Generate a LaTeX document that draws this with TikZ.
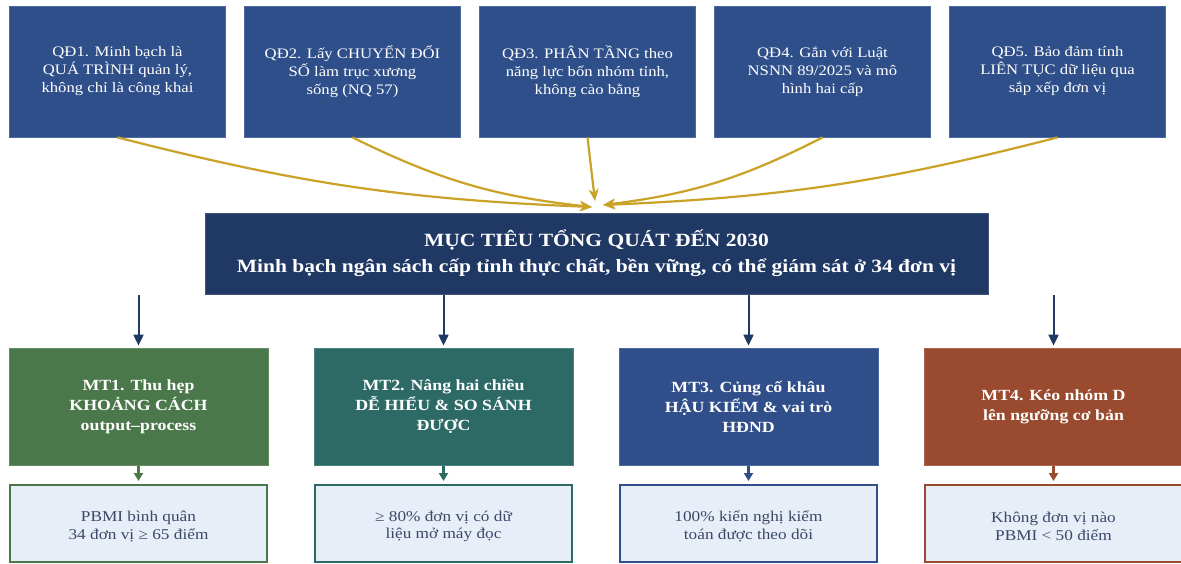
\documentclass[tikz,border=0pt]{standalone}
\usepackage{fontspec}
\setmainfont[FakeStretch=1.15]{Liberation Serif}
\usetikzlibrary{arrows.meta}

\definecolor{qdblue}{HTML}{2F4F8A}
\definecolor{navy}{HTML}{1F3864}
\definecolor{gold}{HTML}{C9A227}
\definecolor{mtgreen}{HTML}{4B784B}
\definecolor{mtteal}{HTML}{2D6A66}
\definecolor{mtblue}{HTML}{2F4E8A}
\definecolor{mtrust}{HTML}{9A4A2E}
\definecolor{kpifill}{HTML}{E8EEF8}
\definecolor{kpitext}{HTML}{3A4868}

% indicator text, set a little below the box centre
\newcommand{\kpitxt}[1]{\parbox{250pt}{\centering\vspace*{6pt}#1}}

\tikzset{
  qdbox/.style={fill=qdblue, draw=qdblue!85!white, line width=0.8pt,
    minimum width=216pt, minimum height=131pt, inner sep=0pt,
    text=white, align=center, font=\fontsize{14.5}{18}\selectfont},
  goalbox/.style={fill=navy, draw=navy!85!white, line width=0.8pt,
    minimum width=783pt, minimum height=81pt, inner sep=0pt,
    text=white, align=center, font=\bfseries\fontsize{18.7}{26}\selectfont},
  mtbox/.style={fill=#1, draw=#1!85!white, line width=0.8pt,
    minimum width=259pt, minimum height=117pt, inner sep=0pt,
    text=white, align=center, font=\bfseries\fontsize{15.5}{20}\selectfont},
  kpibox/.style={fill=kpifill, draw=#1, line width=2pt,
    minimum width=257pt, minimum height=77pt, inner sep=0pt,
    text=kpitext, align=center, font=\fontsize{15}{17.5}\selectfont},
  goldarrow/.style={draw=gold, line width=2.2pt,
    -{Stealth[length=12pt,width=10pt]}},
  navyarrow/.style={draw=navy, line width=2pt,
    -{Triangle[length=11pt,width=10pt]}},
  smallarrow/.style={draw=#1, line width=2.4pt,
    -{Triangle[length=8pt,width=9pt]}, shorten <=1pt, shorten >=3pt},
}

\begin{document}
\begin{tikzpicture}[x=1pt,y=-1pt]
\useasboundingbox (0,0) rectangle (1181,564);
\fill[white] (0,0) rectangle (1181,564);

% five guiding principles
\node[qdbox] (qd1) at (117.5,71.5) {QĐ1. Minh bạch là\\QUÁ TRÌNH quản lý,\\không chỉ là công khai};
\node[qdbox] (qd2) at (352.5,71.5) {QĐ2. Lấy CHUYỂN ĐỔI\\SỐ làm trục xương\\sống (NQ 57)};
\node[qdbox] (qd3) at (587.5,71.5) {QĐ3. PHÂN TẦNG theo\\năng lực bốn nhóm tỉnh,\\không cào bằng};
\node[qdbox] (qd4) at (822.5,71.5) {QĐ4. Gắn với Luật\\NSNN 89/2025 và mô\\hình hai cấp};
\node[qdbox] (qd5) at (1057.5,71.5) {QĐ5. Bảo đảm tính\\LIÊN TỤC dữ liệu qua\\sắp xếp đơn vị};

% overall goal
\node[goalbox] (goal) at (596.5,253.5) {MỤC TIÊU TỔNG QUÁT ĐẾN 2030\\Minh bạch ngân sách cấp tỉnh thực chất, bền vững, có thể giám sát ở 34 đơn vị};

% converging points above the goal
\coordinate (tipL) at (592,207);
\coordinate (tipC) at (595,201);
\coordinate (tipR) at (603,205);

\draw[goldarrow] (qd1.south) to[bend right=6] (tipL);
\draw[goldarrow] (qd2.south) to[bend right=10] (tipL);
\draw[goldarrow] (qd3.south) to (tipC);
\draw[goldarrow] (qd4.south) to[bend left=10] (tipR);
\draw[goldarrow] (qd5.south) to[bend left=6] (tipR);

% specific objectives
\node[mtbox=mtgreen] (mt1) at (138.5,406.5) {MT1. Thu hẹp\\KHOẢNG CÁCH\\output–process};
\node[mtbox=mtteal]  (mt2) at (443.5,406.5) {MT2. Nâng hai chiều\\DỄ HIỂU \& SO SÁNH\\ĐƯỢC};
\node[mtbox=mtblue]  (mt3) at (748.5,406.5) {MT3. Củng cố khâu\\HẬU KIỂM \& vai trò\\HĐND};
\node[mtbox=mtrust]  (mt4) at (1053.5,406.5) {MT4. Kéo nhóm D\\lên ngưỡng cơ bản};

% branch points below the goal
\coordinate (g1) at (138.5,295);
\coordinate (g2) at (443.5,295);
\coordinate (g3) at (748.5,295);
\coordinate (g4) at (1053.5,295);

\draw[navyarrow, shorten >=2pt] (g1) -- (mt1.north);
\draw[navyarrow, shorten >=2pt] (g2) -- (mt2.north);
\draw[navyarrow, shorten >=2pt] (g3) -- (mt3.north);
\draw[navyarrow, shorten >=2pt] (g4) -- (mt4.north);

% indicators
\node[kpibox=mtgreen] (k1) at (138.5,523.5) {\kpitxt{PBMI bình quân\\34 đơn vị ≥ 65 điểm}};
\node[kpibox=mtteal]  (k2) at (443.5,523.5) {\kpitxt{≥ 80\% đơn vị có dữ\\liệu mở máy đọc}};
\node[kpibox=mtblue]  (k3) at (748.5,523.5) {\kpitxt{100\% kiến nghị kiểm\\toán được theo dõi}};
\node[kpibox=mtrust]  (k4) at (1053.5,523.5) {\kpitxt{Không đơn vị nào\\PBMI < 50 điểm}};

\draw[smallarrow=mtgreen] (mt1.south) -- (k1.north);
\draw[smallarrow=mtteal]  (mt2.south) -- (k2.north);
\draw[smallarrow=mtblue]  (mt3.south) -- (k3.north);
\draw[smallarrow=mtrust]  (mt4.south) -- (k4.north);
\end{tikzpicture}
\end{document}
